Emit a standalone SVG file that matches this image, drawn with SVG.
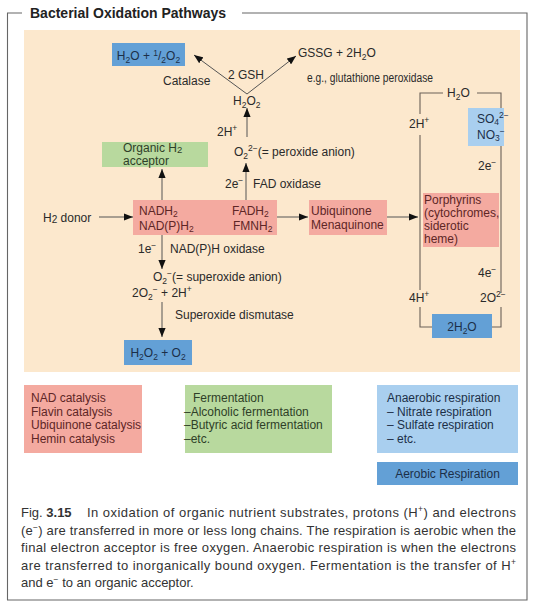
<svg xmlns="http://www.w3.org/2000/svg" width="539" height="606" viewBox="0 0 539 606">
<style>
text{font-family:"Liberation Sans",Arial,sans-serif;font-size:12px;fill:#2a2a2a}
.s{font-size:8.5px}
.t{font-size:14px;font-weight:bold;fill:#222}
.r{fill:#5e2626}
.g{fill:#2f3f28}
.b{fill:#1c2f48}
.c{font-size:13px;fill:#333}
.ln{stroke:#555;stroke-width:1;fill:none}
.lp{stroke:#6a6058;stroke-width:1.1;fill:none}
.mid{text-anchor:middle}
</style>
<defs>
<marker id="ah" viewBox="0 0 10 8" refX="10" refY="4" markerWidth="9" markerHeight="7.5" orient="auto" markerUnits="userSpaceOnUse">
<path d="M0,0 L10,4 L0,8 z" fill="#111"/>
</marker>
</defs>
<rect width="539" height="606" fill="#fff"/>
<g id="frame">
<path d="M22,13 H7.5 V600 H527 V13 H242" fill="none" stroke="#666" stroke-width="1.1"/>
<text class="t" x="30" y="18">Bacterial Oxidation Pathways</text>
</g>
<rect id="bg" x="24" y="30" width="496" height="342" fill="#fce8cd"/>

<g id="connectors">
<line class="ln" x1="247" y1="94" x2="194" y2="55" marker-end="url(#ah)"/>
<line class="ln" x1="247" y1="94" x2="296" y2="56" marker-end="url(#ah)"/>
<line class="ln" x1="247" y1="137" x2="247" y2="108" marker-end="url(#ah)"/>
<line class="ln" x1="246" y1="200" x2="246" y2="163" marker-end="url(#ah)"/>
<line class="ln" x1="162" y1="200" x2="162" y2="169" marker-end="url(#ah)"/>
<line class="ln" x1="99" y1="217" x2="133" y2="217" marker-end="url(#ah)"/>
<line class="ln" x1="194" y1="218" x2="230" y2="218" marker-end="url(#ah)"/>
<line class="ln" x1="277" y1="217" x2="308" y2="217" marker-end="url(#ah)"/>
<line class="ln" x1="387" y1="217" x2="418" y2="217" marker-end="url(#ah)"/>
<line class="ln" x1="162" y1="235" x2="162" y2="269" marker-end="url(#ah)"/>
<line class="ln" x1="162" y1="302" x2="162" y2="337" marker-end="url(#ah)"/>
<path class="lp" d="M443,93 H420 V114 M420,135 V290 M420,307 V327 H432 M492,327 H501 V307 M501,293 V93 H477"/>
</g>

<g id="n-h2o-o2">
<rect x="112" y="43" width="73" height="23" fill="#63a0d6"/>
<text class="b mid" x="148.5" y="60">H<tspan class="s" dy="3">2</tspan><tspan dy="-3">O + </tspan><tspan class="s" dy="-4">1</tspan><tspan dy="4">/</tspan><tspan class="s" dy="3">2</tspan><tspan dy="-3">O</tspan><tspan class="s" dy="3">2</tspan></text>
</g>
<g id="n-catalase"><text x="163" y="85">Catalase</text></g>
<g id="n-gsh"><text x="228" y="79">2 GSH</text></g>
<g id="n-h2o2"><text x="233" y="105">H<tspan class="s" dy="3">2</tspan><tspan dy="-3">O</tspan><tspan class="s" dy="3">2</tspan></text></g>
<g id="n-gssg"><text x="298" y="57">GSSG + 2H<tspan class="s" dy="3">2</tspan><tspan dy="-3">O</tspan></text></g>
<g id="n-gpx"><text x="307" y="82" font-size="11" textLength="126" lengthAdjust="spacingAndGlyphs">e.g., glutathione peroxidase</text></g>

<g id="n-h2o-top"><text x="447" y="97">H<tspan class="s" dy="3">2</tspan><tspan dy="-3">O</tspan></text></g>
<g id="n-2h-right"><text x="409" y="128">2H<tspan class="s" dy="-5">+</tspan></text></g>
<g id="n-so4">
<rect x="468" y="108" width="36" height="38" fill="#a9cfef"/>
<text class="b" x="477" y="123">SO<tspan class="s" dy="2">4</tspan><tspan class="s" dy="-7">2−</tspan></text>
<text class="b" x="477" y="139">NO<tspan class="s" dy="2">3</tspan><tspan class="s" dy="-7">−</tspan></text>
</g>
<g id="n-2e-right"><text x="478" y="170">2e<tspan class="s" dy="-5">−</tspan></text></g>

<g id="n-2h-mid"><text x="217" y="136">2H<tspan class="s" dy="-5">+</tspan></text></g>
<g id="n-peroxide"><text x="234" y="156">O<tspan class="s" dy="3">2</tspan><tspan class="s" dy="-8">2−</tspan><tspan dy="5">(= peroxide anion)</tspan></text></g>

<g id="n-organic">
<rect x="102" y="142" width="106" height="25" fill="#b8d99e"/>
<text class="g" x="123" y="152" font-size="11.5">Organic H<tspan font-size="9.5" dy="1">2</tspan></text>
<text class="g" x="123" y="164.5" font-size="11.5">acceptor</text>
</g>
<g id="n-fad-ox"><text x="225" y="188">2e<tspan class="s" dy="-5">−</tspan></text><text x="253" y="188">FAD oxidase</text></g>

<g id="n-donor"><text x="43" y="222">H<tspan font-size="10" dy="1">2</tspan><tspan dy="-1"> donor</tspan></text></g>
<g id="n-nad">
<rect x="133" y="200" width="144" height="35" fill="#f4aaa0"/>
<text class="r" x="139" y="214.5">NADH<tspan class="s" dy="2">2</tspan></text>
<text class="r" x="139" y="230">NAD(P)H<tspan class="s" dy="2">2</tspan></text>
<text class="r" x="232" y="214.5">FADH<tspan class="s" dy="2">2</tspan></text>
<text class="r" x="233" y="230">FMNH<tspan class="s" dy="2">2</tspan></text>
</g>
<g id="n-ubi">
<rect x="309" y="200" width="78" height="35" fill="#f4aaa0"/>
<text class="r" x="311" y="215">Ubiquinone</text>
<text class="r" x="311" y="228.5">Menaquinone</text>
</g>
<g id="n-porph">
<rect x="423" y="193" width="76" height="54" fill="#f4aaa0"/>
<text class="r" x="424" y="204">Porphyrins</text>
<text class="r" x="424" y="217">(cytochromes,</text>
<text class="r" x="424" y="230">siderotic</text>
<text class="r" x="424" y="243">heme)</text>
</g>
<g id="n-4e"><text x="478" y="277">4e<tspan class="s" dy="-5">−</tspan></text></g>
<g id="n-4h"><text x="409" y="302">4H<tspan class="s" dy="-5">+</tspan></text></g>
<g id="n-2o"><text x="480" y="302">2O<tspan class="s" dy="-5">2−</tspan></text></g>
<g id="n-2h2o">
<rect x="432" y="314" width="60" height="24" fill="#63a0d6"/>
<text class="b mid" x="462" y="331">2H<tspan class="s" dy="3">2</tspan><tspan dy="-3">O</tspan></text>
</g>

<g id="n-nadph-ox"><text x="138" y="253">1e<tspan class="s" dy="-5">−</tspan></text><text x="170" y="253">NAD(P)H oxidase</text></g>
<g id="n-superoxide"><text x="153" y="281">O<tspan class="s" dy="3">2</tspan><tspan class="s" dy="-8">−</tspan><tspan dy="5">(= superoxide anion)</tspan></text></g>
<g id="n-2o2"><text x="132" y="297">2O<tspan class="s" dy="3">2</tspan><tspan class="s" dy="-8">−</tspan><tspan dy="5"> + 2H</tspan><tspan class="s" dy="-5">+</tspan></text></g>
<g id="n-sod"><text x="175" y="319">Superoxide dismutase</text></g>
<g id="n-h2o2-o2">
<rect x="124" y="340" width="68" height="25" fill="#63a0d6"/>
<text class="b mid" x="158" y="357">H<tspan class="s" dy="3">2</tspan><tspan dy="-3">O</tspan><tspan class="s" dy="3">2</tspan><tspan dy="-3"> + O</tspan><tspan class="s" dy="3">2</tspan></text>
</g>

<g id="legend-catalysis">
<rect x="24" y="385" width="118" height="68" fill="#f4aaa0"/>
<text class="r" x="31" y="401.5">NAD catalysis</text>
<text class="r" x="31" y="415.5">Flavin catalysis</text>
<text class="r" x="31" y="429">Ubiquinone catalysis</text>
<text class="r" x="31" y="442.5">Hemin catalysis</text>
</g>
<g id="legend-fermentation">
<rect x="185" y="385" width="147" height="68" fill="#b8d99e"/>
<text class="g" x="193" y="401.5">Fermentation</text>
<text class="g" x="184" y="415.5">–Alcoholic fermentation</text>
<text class="g" x="184" y="429">–Butyric acid fermentation</text>
<text class="g" x="184" y="442.5">–etc.</text>
</g>
<g id="legend-anaerobic">
<rect x="377" y="385" width="141" height="68" fill="#a9cfef"/>
<text class="b" x="387" y="401.5">Anaerobic respiration</text>
<text class="b" x="387" y="415.5">– Nitrate respiration</text>
<text class="b" x="387" y="429">– Sulfate respiration</text>
<text class="b" x="387" y="442.5">– etc.</text>
</g>
<g id="legend-aerobic">
<rect x="377" y="462" width="141" height="23" fill="#63a0d6"/>
<text class="b mid" x="447.5" y="478">Aerobic Respiration</text>
</g>

<g id="caption">
<text class="c" x="21" y="517">Fig. <tspan font-weight="bold">3.15</tspan></text>
<text class="c" x="87" y="517" textLength="429" lengthAdjust="spacing">In oxidation of organic nutrient substrates, protons (H<tspan class="s" dy="-5">+</tspan><tspan dy="5">) and electrons</tspan></text>
<text class="c" x="21" y="535" textLength="495" lengthAdjust="spacing">(e<tspan class="s" dy="-5">−</tspan><tspan dy="5">) are transferred in more or less long chains. The respiration is aerobic when the</tspan></text>
<text class="c" x="21" y="552" textLength="495" lengthAdjust="spacing">final electron acceptor is free oxygen. Anaerobic respiration is when the electrons</text>
<text class="c" x="21" y="570" textLength="495" lengthAdjust="spacing">are transferred to inorganically bound oxygen. Fermentation is the transfer of H<tspan class="s" dy="-5">+</tspan></text>
<text class="c" x="21" y="587">and e<tspan class="s" dy="-5">−</tspan><tspan dy="5"> to an organic acceptor.</tspan></text>
</g>
</svg>
